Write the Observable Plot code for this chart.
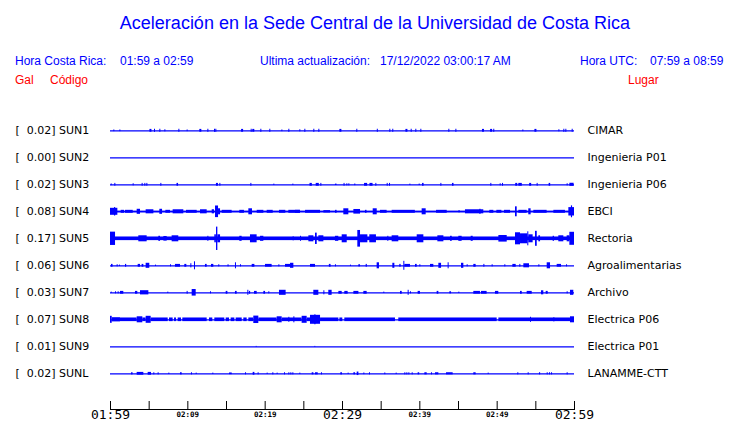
<!DOCTYPE html>
<html><head><meta charset="utf-8">
<script src="https://cdn.jsdelivr.net/npm/d3@7"></script>
<script src="https://cdn.jsdelivr.net/npm/@observablehq/plot@0.6"></script>
<style>
body{margin:0;background:#fff;}
#wrap{position:relative;width:740px;height:423px;overflow:hidden;font-family:"Liberation Sans",Arial,sans-serif;background:#fff;}
.h{position:absolute;white-space:pre;line-height:1;}
#chart{position:absolute;left:0;top:95px;}
</style></head><body><div id="wrap"><div id="chart"></div></div>
<script>
// ---------- texts ----------
const titleText = "Aceleración en la Sede Central de la Universidad de Costa Rica";
const infoTexts = ["Hora Costa Rica:", "01:59 a 02:59", "Ultima actualización:", "17/12/2022 03:00:17 AM", "Hora UTC:", "07:59 a 08:59"];
const headTexts = ["Gal", "Código", "Lugar"];

// ---------- stations ----------
const stations = ["SUN1","SUN2","SUN3","SUN4","SUN5","SUN6","SUN7","SUN8","SUN9","SUNL"];
const galMax   = ["0.02","0.00","0.02","0.08","0.17","0.06","0.03","0.07","0.01","0.02"];
const places   = ["CIMAR","Ingenieria P01","Ingenieria P06","EBCI","Rectoria","Agroalimentarias","Archivo","Electrica P06","Electrica P01","LANAMME-CTT"];
// continuous background noise level (Gal) per station
const baseNoise = [0, 0, 0, 0.01, 0.026, 0, 0, 0, 0, 0];

// ---------- x axis (minutes after 01:59) ----------
const tickMinutes = [0,5,10,15,20,25,30,35,40,45,50,55,60];
const bigTicks = [0, 30, 60];
const bigLabels = ["01:59", "02:29", "02:59"];
const smallTicks = [10, 20, 40, 50];
const smallLabels = ["02:09", "02:19", "02:39", "02:49"];

// ---------- bursts: [minute, duration (min), half amplitude (Gal)] ----------
const sun1 = [[0.43,0.1,0.012],[1.21,0.1,0.012],[5.1,0.26,0.02],[5.69,0.1,0.022],[6.38,0.1,0.022],[7.03,0.1,0.015],[8.84,0.1,0.022],[9.91,0.1,0.012],[11.55,0.26,0.02],[12.59,0.1,0.022],[13.45,0.1,0.022],[13.62,0.1,0.022],[16.95,0.26,0.02],[18.19,0.1,0.022],[18.4,0.26,0.02],[19.44,0.1,0.022],[20.6,0.1,0.022],[22.16,0.1,0.012],[23.06,0.1,0.022],[24.48,0.1,0.015],[25.13,0.1,0.022],[26.29,0.1,0.022],[26.94,0.1,0.022],[29.66,0.26,0.02],[31.85,0.1,0.022],[34.5,0.1,0.022],[36.12,0.1,0.022],[36.5,0.1,0.022],[38.2,0.26,0.02],[38.88,0.1,0.022],[39.48,0.1,0.022],[40.13,0.1,0.022],[43.75,0.1,0.022],[44.66,0.1,0.022],[48.1,0.26,0.02],[49.15,0.26,0.02],[49.56,0.1,0.022],[53.32,0.1,0.012],[54.88,0.26,0.02],[57.98,0.1,0.015],[58.62,0.1,0.022],[58.88,0.1,0.022],[59.7,0.1,0.022]];
const sun2 = [];
const sun3 = [[0.09,0.1,0.012],[0.56,0.1,0.02],[2.93,0.1,0.015],[4.09,0.1,0.02],[4.44,0.1,0.02],[4.7,0.1,0.02],[6.51,0.1,0.02],[8.6,0.2,0.02],[13.7,0.26,0.02],[14.14,0.1,0.02],[18.15,0.1,0.02],[21.12,0.1,0.01],[23.58,0.1,0.01],[25.8,0.3,0.02],[26.6,0.4,0.02],[27.2,0.1,0.02],[29.09,0.2,0.01],[30.2,0.1,0.02],[30.56,0.1,0.015],[30.82,0.1,0.015],[31.59,0.1,0.012],[32.85,0.4,0.02],[33.55,0.4,0.02],[34.31,0.1,0.02],[35.78,0.1,0.02],[36.08,0.1,0.02],[38.71,0.1,0.01],[39.91,0.15,0.01],[40.35,0.2,0.02],[42.72,0.1,0.02],[44.22,0.2,0.02],[49.18,0.1,0.02],[50.39,0.1,0.015],[50.69,0.1,0.02],[52.4,0.26,0.02],[52.8,0.45,0.02],[54.2,0.26,0.02],[55.17,0.1,0.02],[56.72,0.2,0.02],[59.05,0.1,0.015],[59.4,0.55,0.022]];
const sun4 = [[0,0.95,0.05],[0.52,0.15,0.06],[1.38,0.43,0.021],[1.94,1.0,0.021],[3.45,0.43,0.036],[4.61,1.0,0.029],[6.38,0.35,0.036],[7.16,0.6,0.021],[8.1,1.38,0.029],[9.83,1.38,0.021],[11.64,0.86,0.029],[13.15,0.3,0.029],[13.58,0.39,0.083],[13.97,0.26,0.043],[14.44,1.29,0.021],[16.72,0.6,0.021],[17.89,0.47,0.043],[18.97,0.86,0.021],[20.26,0.78,0.021],[21.85,0.82,0.021],[23.06,1.5,0.021],[23.92,0.65,0.021],[25.22,1.94,0.021],[27.59,0.86,0.017],[29.1,0.2,0.021],[30.17,0.65,0.043],[31.47,0.86,0.033],[32.97,0.2,0.021],[33.97,0.52,0.043],[34.91,0.86,0.021],[36.42,3.0,0.021],[40.3,0.52,0.043],[42.16,1.38,0.021],[45.04,0.2,0.014],[45.9,2.37,0.029],[47.76,0.15,0.036],[49.05,0.52,0.021],[49.96,0.65,0.021],[50.95,0.78,0.021],[52.37,0.22,0.071],[52.8,1.08,0.021],[54.09,0.3,0.043],[54.74,1.72,0.021],[57.33,1.5,0.021],[59.27,0.73,0.06],[59.6,0.15,0.085]];
const sun5 = [[0,0.65,0.095],[3.66,1.08,0.043],[6.25,0.22,0.036],[6.9,0.43,0.033],[7.97,0.86,0.043],[12.59,0.12,0.036],[13.49,0.2,0.057],[13.71,0.17,0.167],[13.88,0.35,0.057],[16.72,0.3,0.036],[18.1,0.86,0.057],[19.4,0.43,0.036],[23.62,0.12,0.029],[24.57,0.12,0.036],[25.65,0.65,0.043],[26.51,0.22,0.081],[26.94,0.65,0.043],[29.09,0.43,0.036],[29.96,0.65,0.057],[31.98,0.35,0.119],[32.33,0.95,0.057],[33.53,0.86,0.057],[35.86,0.13,0.036],[36.42,0.86,0.043],[39.66,0.86,0.057],[42.33,0.78,0.043],[43.97,0.22,0.036],[45.04,0.43,0.036],[46.64,0.26,0.036],[50.22,1.08,0.047],[52.37,0.65,0.086],[53.02,0.95,0.071],[53.96,0.13,0.1],[54.09,0.56,0.057],[54.96,0.22,0.107],[55.39,0.22,0.043],[57.24,0.17,0.036],[57.97,0.65,0.043],[59.05,0.35,0.043],[59.4,0.6,0.093]];
const sun6 = [[0.13,0.2,0.02],[0.86,0.1,0.015],[1.16,0.1,0.01],[1.94,0.15,0.02],[3.58,0.3,0.02],[4.09,0.22,0.02],[4.61,0.47,0.036],[5.82,0.1,0.01],[7.76,0.1,0.015],[8.4,0.65,0.02],[9.61,0.26,0.02],[10.39,0.1,0.03],[10.86,0.12,0.057],[12.28,0.22,0.02],[13.06,0.3,0.02],[14.0,0.12,0.015],[15.2,0.1,0.015],[16.16,0.12,0.043],[16.81,0.1,0.015],[18.32,0.35,0.02],[20.04,0.86,0.02],[21.77,0.1,0.015],[22.63,0.65,0.02],[23.28,0.43,0.036],[25.86,0.65,0.02],[28.3,0.22,0.02],[29.09,0.1,0.015],[31.03,0.1,0.01],[32.11,0.22,0.015],[33.06,0.15,0.02],[34.48,0.3,0.043],[36.51,0.26,0.036],[37.41,0.17,0.02],[37.93,0.1,0.064],[38.06,0.73,0.02],[39.44,0.22,0.02],[40.0,0.1,0.015],[41.38,0.43,0.02],[42.46,0.35,0.036],[43.66,0.1,0.043],[45.39,0.3,0.036],[46.12,0.1,0.015],[46.98,0.3,0.02],[48.28,0.12,0.02],[49.35,0.1,0.015],[50.99,0.1,0.015],[52.03,0.43,0.02],[52.93,0.12,0.02],[53.45,0.73,0.029],[55.39,0.1,0.015],[56.47,0.43,0.043],[57.76,0.56,0.02],[58.97,0.1,0.015]];
const sun7 = [[0.09,0.1,0.01],[0.65,0.1,0.015],[0.99,0.1,0.015],[1.29,0.43,0.02],[3.23,0.3,0.02],[3.88,1.08,0.03],[7.41,0.1,0.01],[9.91,0.1,0.02],[10.56,0.52,0.047],[12.93,0.1,0.015],[14.96,0.22,0.02],[16.16,0.22,0.02],[17.76,0.12,0.036],[17.97,0.15,0.02],[18.62,0.35,0.02],[19.83,0.22,0.02],[20.47,0.1,0.015],[21.85,0.86,0.036],[26.29,0.65,0.036],[27.59,0.12,0.029],[28.23,0.43,0.036],[29.53,0.43,0.02],[30.3,0.43,0.02],[31.47,0.65,0.02],[32.76,0.43,0.02],[35.34,0.1,0.01],[37.5,0.22,0.02],[38.49,0.12,0.036],[38.79,0.1,0.015],[39.78,0.3,0.02],[42.24,0.22,0.02],[43.88,0.22,0.015],[45.04,0.1,0.01],[46.98,0.86,0.02],[47.97,0.73,0.02],[49.78,0.43,0.02],[53.02,0.22,0.02],[53.88,0.65,0.02],[55.73,0.3,0.029],[56.34,0.26,0.02],[59.05,0.1,0.015],[59.48,0.43,0.036]];
const sun8 = [[0,0.22,0.05],[0.22,1.07,0.03],[1.29,2.16,0.026],[3.45,0.73,0.043],[4.18,0.43,0.026],[4.61,0.65,0.05],[5.26,2.2,0.026],[7.63,0.47,0.026],[8.28,0.25,0.026],[8.75,0.43,0.026],[9.35,3.15,0.026],[12.8,0.43,0.026],[13.49,1.29,0.026],[14.96,0.43,0.026],[15.6,0.48,0.026],[16.25,0.78,0.026],[17.24,0.43,0.026],[17.89,0.64,0.026],[18.53,0.65,0.053],[19.18,2.37,0.026],[21.55,0.65,0.043],[22.2,2.58,0.026],[23.06,0.12,0.036],[23.71,0.12,0.043],[24.78,0.65,0.05],[25.43,0.43,0.026],[25.86,1.3,0.064],[26.42,0.15,0.071],[27.16,2.37,0.026],[29.66,0.38,0.026],[30.3,6.55,0.026],[37.28,12.72,0.026],[50.22,9.26,0.026],[54.31,0.12,0.036],[57.33,0.1,0.03],[59.48,0.52,0.043]];
const sun9 = [[18.84,0.1,0.006],[26.42,0.1,0.006]];
const sunl = [[2.72,0.2,0.015],[3.45,0.86,0.02],[4.87,0.43,0.02],[5.6,0.1,0.015],[6.16,0.1,0.015],[7.54,0.1,0.01],[9.05,0.22,0.015],[10.47,0.1,0.015],[11.08,0.1,0.01],[13.23,0.1,0.01],[15.39,0.35,0.012],[17.46,0.12,0.015],[18.45,0.22,0.02],[19.09,0.1,0.015],[20.26,0.1,0.01],[20.99,0.1,0.015],[21.55,0.1,0.01],[22.5,0.1,0.015],[23.06,0.1,0.015],[23.32,0.1,0.015],[23.58,0.1,0.015],[24.48,0.1,0.01],[26.08,0.22,0.015],[26.51,0.35,0.015],[27.28,0.1,0.015],[29.78,0.22,0.015],[30.73,0.1,0.01],[31.47,0.22,0.015],[31.9,0.22,0.025],[32.76,0.1,0.012],[33.49,0.1,0.015],[35.47,0.1,0.012],[36.94,0.1,0.01],[38.06,0.1,0.015],[38.32,0.1,0.015],[38.58,0.1,0.015],[39.01,0.1,0.015],[39.78,0.2,0.015],[40.65,0.3,0.015],[41.51,0.1,0.015],[42.03,0.43,0.015],[43.45,0.86,0.015],[46.98,0.3,0.015],[48.84,0.1,0.01],[52.67,0.1,0.015],[54.01,0.1,0.015],[55.47,0.15,0.015],[56.47,0.1,0.015],[56.77,0.1,0.015],[57.03,0.1,0.015],[59.05,0.1,0.015]];
const stationEvents = [sun1, sun2, sun3, sun4, sun5, sun6, sun7, sun8, sun9, sunl];

// ---------- header (HTML) ----------
const BLUE = "#0000ff", RED = "#ff0000";
const wrap = document.getElementById("wrap");
function addText(txt, left, top, size, color, center) {
  const d = document.createElement("div");
  d.className = "h";
  d.textContent = txt;
  d.style.top = top + "px";
  d.style.fontSize = size + "px";
  d.style.color = color;
  if (center) { d.style.left = "0px"; d.style.width = "750px"; d.style.textAlign = "center"; }
  else d.style.left = left + "px";
  wrap.appendChild(d);
}
addText(titleText, 0, 14, 18, BLUE, true);
const infoLeft = [15, 120, 260, 380, 580, 650];
infoTexts.forEach((t, i) => addText(t, infoLeft[i], 55, 12, BLUE));
const headLeft = [15, 50, 628];
headTexts.forEach((t, i) => addText(t, headLeft[i], 74, 12, RED));

// ---------- chart ----------
const K = 70;            // pixels per Gal
const ROW = 27 / K;      // row spacing in Gal units
const rows = stations.map((code, i) => ({code, gal: galMax[i], place: places[i], yc: -i * ROW, base: baseNoise[i]}));
const segs = [];
stationEvents.forEach((ev, i) => ev.forEach(([t, dur, a]) => segs.push({t, dur, a, yc: -i * ROW})));
const bands = rows.filter(r => r.base > 0);
const yMin = -(314 - 35.3) / K, yMax = 35.3 / K;

const chart = Plot.plot({
  width: 740, height: 328,
  marginTop: 0, marginBottom: 14, marginLeft: 110, marginRight: 166,
  style: {background: "#fff"},
  x: {domain: [0, 60], axis: null},
  y: {domain: [yMin, yMax], axis: null},
  marks: [
    Plot.ruleY(rows, {y: "yc", x1: 0, x2: 60, stroke: BLUE, strokeWidth: 1.3}),
    Plot.rect(bands, {x1: 0, x2: 60, y1: d => d.yc - d.base, y2: d => d.yc + d.base, fill: BLUE}),
    Plot.rect(segs, {x1: "t", x2: d => Math.min(60, d.t + Math.max(d.dur, 0.13)), y1: d => d.yc - d.a, y2: d => d.yc + d.a, fill: BLUE}),
    Plot.text(rows, {y: "yc", frameAnchor: "left", dx: -95, textAnchor: "start",
      text: d => `[\u00a0\u00a0${d.gal}]\u00a0${d.code}`, fill: "black", fontFamily: "DejaVu Sans", fontSize: 11}),
    Plot.text(rows, {y: "yc", frameAnchor: "right", dx: 13, textAnchor: "start",
      text: "place", fill: "black", fontFamily: "DejaVu Sans", fontSize: 11}),
    Plot.frame({anchor: "bottom", stroke: "black"}),
    Plot.ruleX(tickMinutes, {x: d => d, y1: yMin, y2: yMin + 8 / K, stroke: "black"}),
    Plot.text(bigTicks, {x: d => d, text: (d, i) => bigLabels[i], frameAnchor: "bottom", dy: 9,
      fill: "black", fontFamily: "DejaVu Sans Mono", fontSize: 13}),
    Plot.text(smallTicks, {x: d => d, text: (d, i) => smallLabels[i], frameAnchor: "bottom", dy: 7,
      fill: "black", fontFamily: "DejaVu Sans Mono", fontSize: 7.5, fontWeight: "bold"})
  ]
});
document.getElementById("chart").appendChild(chart);
</script>
</body></html>
